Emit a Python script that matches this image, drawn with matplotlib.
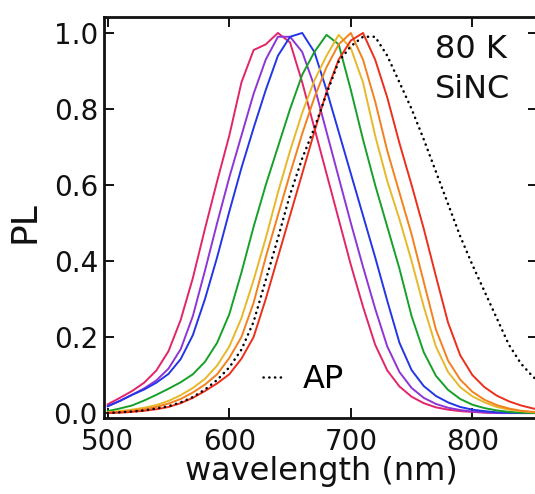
import matplotlib
matplotlib.use("Agg")
import matplotlib.pyplot as plt

wavelength = [500, 510, 520, 530, 540, 550, 560, 570, 580, 590, 600, 610, 620, 630, 640,
              650, 660, 670, 680, 690, 700, 710, 720, 730, 740, 750, 760, 770, 780, 790,
              800, 810, 820, 830, 840, 850, 860]

pl_magenta = [0.023, 0.04, 0.058, 0.08, 0.112, 0.163, 0.245, 0.355, 0.485, 0.61, 0.73, 0.87, 0.955, 0.97, 1.0,
              0.975, 0.87, 0.75, 0.63, 0.51, 0.39, 0.28, 0.18, 0.112, 0.07, 0.043, 0.026, 0.015, 0.009, 0.005,
              0.003, 0.001, 0.0, 0.0, 0.0, 0.0, 0.0]
pl_purple = [0.018, 0.032, 0.048, 0.065, 0.086, 0.117, 0.168, 0.255, 0.375, 0.50, 0.62, 0.73, 0.84, 0.93, 0.99,
             0.99, 0.95, 0.86, 0.74, 0.62, 0.50, 0.385, 0.275, 0.175, 0.108, 0.066, 0.04, 0.024, 0.014, 0.008,
             0.004, 0.002, 0.0, 0.0, 0.0, 0.0, 0.0]
pl_blue = [0.018, 0.032, 0.048, 0.062, 0.08, 0.103, 0.142, 0.205, 0.30, 0.41, 0.53, 0.645, 0.75, 0.85, 0.94,
           0.99, 1.0, 0.95, 0.85, 0.74, 0.63, 0.52, 0.41, 0.295, 0.185, 0.113, 0.071, 0.045, 0.028, 0.016,
           0.009, 0.005, 0.002, 0.001, 0.0, 0.0, 0.0]
pl_green = [0.005, 0.012, 0.02, 0.033, 0.048, 0.064, 0.081, 0.102, 0.135, 0.185, 0.26, 0.37, 0.49, 0.60, 0.70,
            0.80, 0.89, 0.95, 0.995, 0.97, 0.85, 0.72, 0.60, 0.49, 0.38, 0.255, 0.16, 0.098, 0.061, 0.037,
            0.022, 0.013, 0.007, 0.003, 0.001, 0.0, 0.0]
pl_gold = [0.002, 0.005, 0.009, 0.014, 0.021, 0.032, 0.047, 0.066, 0.09, 0.125, 0.175, 0.25, 0.35, 0.46, 0.58,
           0.69, 0.79, 0.875, 0.94, 0.995, 0.96, 0.87, 0.73, 0.61, 0.51, 0.40, 0.28, 0.175, 0.108, 0.068,
           0.044, 0.028, 0.016, 0.009, 0.005, 0.002, 0.001]
pl_orange = [0.001, 0.003, 0.006, 0.01, 0.016, 0.025, 0.037, 0.054, 0.075, 0.102, 0.145, 0.20, 0.29, 0.41, 0.52,
             0.63, 0.735, 0.83, 0.91, 0.97, 1.0, 0.93, 0.82, 0.69, 0.58, 0.47, 0.345, 0.22, 0.138, 0.088,
             0.056, 0.035, 0.021, 0.012, 0.006, 0.003, 0.002]
pl_red = [0.0, 0.001, 0.003, 0.006, 0.01, 0.016, 0.026, 0.04, 0.058, 0.078, 0.102, 0.143, 0.2, 0.30, 0.41,
          0.52, 0.63, 0.74, 0.845, 0.93, 0.98, 1.0, 0.93, 0.83, 0.71, 0.60, 0.485, 0.36, 0.238, 0.152,
          0.1, 0.068, 0.046, 0.031, 0.02, 0.012, 0.007]
pl_ap = [0.0, 0.002, 0.004, 0.007, 0.012, 0.018, 0.028, 0.042, 0.062, 0.087, 0.12, 0.167, 0.24, 0.35, 0.46,
         0.575, 0.67, 0.75, 0.84, 0.925, 0.965, 0.99, 0.99, 0.94, 0.87, 0.80, 0.72, 0.635, 0.55, 0.465,
         0.39, 0.32, 0.25, 0.18, 0.13, 0.095, 0.07]

series = [pl_magenta, pl_purple, pl_blue, pl_green, pl_gold, pl_orange, pl_red]
colors = ["#e2246a", "#8e35d6", "#2236e6", "#16a02a", "#e6b82a", "#f2811e", "#ec2e1c"]

x_ticks = [500, 600, 700, 800]
y_ticks = [0.0, 0.2, 0.4, 0.6, 0.8, 1.0]

W, H = 535, 494
fig = plt.figure(figsize=(W / 100, H / 100), dpi=100)
ax = fig.add_axes([103.5 / W, 1 - 418 / H, 434.5 / W, 401 / H])

for vals, c in zip(series, colors):
    ax.plot(wavelength, vals, color=c, lw=1.4, solid_joinstyle="round")
ap_line, = ax.plot(wavelength, pl_ap, color="black", lw=1.8,
                   linestyle=(0, (0.1, 2.2)), dash_capstyle="round")

ax.set_xlim(496.5, 854)
ax.set_ylim(-0.013, 1.042)
ax.set_xticks(x_ticks)
ax.set_xticklabels([str(t) for t in x_ticks])
ax.set_yticks(y_ticks)
ax.set_yticklabels([f"{t:.1f}" for t in y_ticks])

ax.tick_params(direction="in", length=7, width=1.4, top=True, right=True,
               labelsize=20, colors="#111111")
ax.tick_params(axis="x", pad=7)
ax.tick_params(axis="y", pad=4)
for s in ax.spines.values():
    s.set_linewidth(2.0)
    s.set_color("#111111")

fig.text(321.5 / W, 1 - 480 / H, "wavelength (nm)", ha="center", va="baseline",
         fontsize=23, color="#111111")
fig.text(25 / W, 1 - 222 / H, "PL", rotation=90, ha="center", va="center",
         fontsize=26, color="#111111")
fig.text(435 / W, 1 - 58 / H, "80 K", ha="left", va="baseline", fontsize=23,
         color="#111111")
fig.text(435 / W, 1 - 98 / H, "SiNC", ha="left", va="baseline", fontsize=23,
         color="#111111")

ax.legend([ap_line], ["AP"], loc="center left",
          bbox_to_anchor=(0.367, 0.095), frameon=False, fontsize=23,
          handlelength=0.55, handletextpad=0.7, borderpad=0, borderaxespad=0)

fig.savefig("out.png", dpi=100)
